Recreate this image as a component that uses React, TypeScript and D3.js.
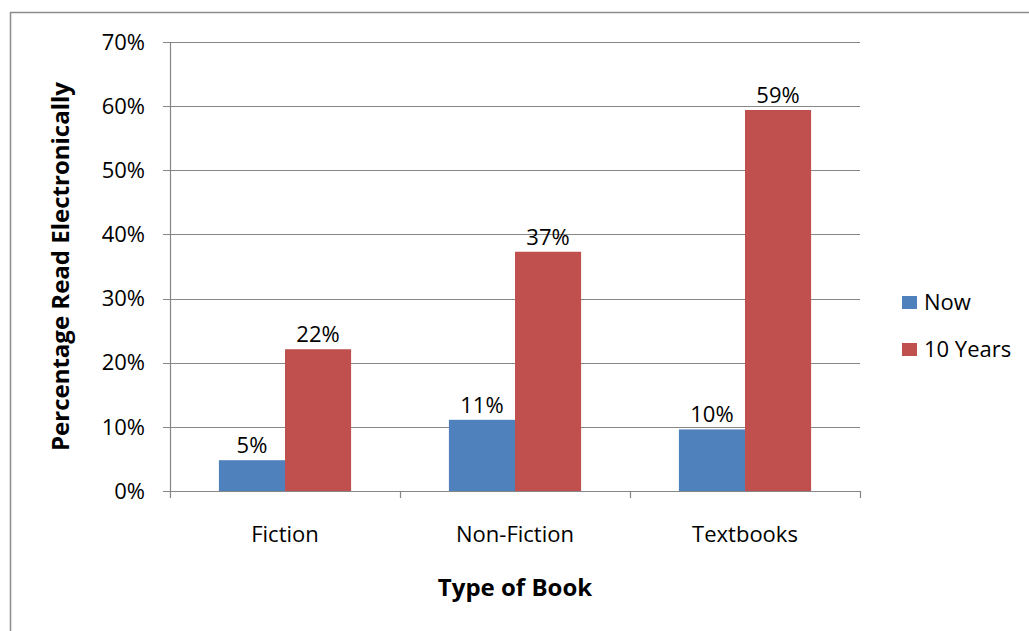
import * as d3 from 'd3'

const categories = ['Fiction', 'Non-Fiction', 'Textbooks']
const seriesNames = ['Now', '10 Years']
const nowValues = [0.048, 0.111, 0.096]
const tenYearValues = [0.221, 0.373, 0.594]
const valueLabels = [
  ['5%', '11%', '10%'],
  ['22%', '37%', '59%'],
]
const yTicks = [0, 0.1, 0.2, 0.3, 0.4, 0.5, 0.6, 0.7]
const colors = ['#4F81BD', '#C0504D']

const width = 1029
const height = 631
const marginLeft = 170
const marginRight = 169
const marginTop = 42
const plotBottom = 491
const font = "'Open Sans', 'Noto Sans', sans-serif"

export default function App() {
  const x = d3.scaleBand(categories, [marginLeft, width - marginRight])
  const inner = d3
    .scaleBand(seriesNames, [0, x.bandwidth()])
    .paddingInner(0)
    .paddingOuter(0.74)
  const y = d3.scaleLinear([0, 0.7], [plotBottom, marginTop])
  const series = [nowValues, tenYearValues]

  return (
    <svg
      width={width}
      height={height}
      style={{ position: 'absolute', left: 0, top: 0 }}
      fontFamily={font}
    >
      <rect x={0} y={0} width={width} height={height} fill="white" />
      <rect
        x={10.5}
        y={12.5}
        width={width + 20}
        height={height + 20}
        fill="none"
        stroke="#8c8c8c"
        strokeWidth={1.5}
      />
      {/* gridlines and y ticks */}
      {yTicks.map((t) => (
        <g key={t}>
          <line
            x1={marginLeft - 7}
            x2={width - marginRight}
            y1={Math.round(y(t)) + 0.5}
            y2={Math.round(y(t)) + 0.5}
            stroke="#868686"
            strokeWidth={1.2}
          />
          <text
            x={145}
            y={y(t)}
            dy="0.35em"
            textAnchor="end"
            fontSize={22}
            fill="#000"
          >
            {d3.format('.0%')(t)}
          </text>
        </g>
      ))}
      {/* y axis line */}
      <line
        x1={marginLeft + 0.5}
        x2={marginLeft + 0.5}
        y1={marginTop}
        y2={plotBottom}
        stroke="#868686"
        strokeWidth={1.2}
      />
      {/* category ticks */}
      {[...categories.map((c) => x(c)!), width - marginRight].map((v, i) => (
        <line
          key={i}
          x1={v + 0.5}
          x2={v + 0.5}
          y1={plotBottom}
          y2={plotBottom + 7}
          stroke="#868686"
          strokeWidth={1.2}
        />
      ))}
      {/* bars */}
      {series.map((vals, si) =>
        vals.map((v, ci) => {
          const bx = x(categories[ci])! + inner(seriesNames[si])!
          const by = y(v)
          return (
            <g key={`${si}-${ci}`}>
              <rect
                x={bx}
                y={by}
                width={inner.bandwidth()}
                height={plotBottom - by}
                fill={colors[si]}
              />
              <text
                x={bx + inner.bandwidth() / 2}
                y={by - 7}
                textAnchor="middle"
                fontSize={22}
                fill="#000"
              >
                {valueLabels[si][ci]}
              </text>
            </g>
          )
        })
      )}
      {/* category labels */}
      {categories.map((c) => (
        <text
          key={c}
          x={x(c)! + x.bandwidth() / 2}
          y={542}
          textAnchor="middle"
          fontSize={22}
          fill="#000"
        >
          {c}
        </text>
      ))}
      {/* axis titles */}
      <text
        x={(marginLeft + width - marginRight) / 2}
        y={596}
        textAnchor="middle"
        fontSize={24}
        fontWeight="bold"
        fill="#000"
      >
        Type of Book
      </text>
      <text
        transform={`translate(69,${(marginTop + plotBottom) / 2}) rotate(-90)`}
        textAnchor="middle"
        fontSize={24}
        fontWeight="bold"
        fill="#000"
      >
        Percentage Read Electronically
      </text>
      {/* legend */}
      {seriesNames.map((s, i) => (
        <g key={s} transform={`translate(902,${296 + i * 47})`}>
          <rect width={15} height={13} fill={colors[i]} />
          <text x={22} y={14} fontSize={22} fill="#000">
            {s}
          </text>
        </g>
      ))}
    </svg>
  )
}
